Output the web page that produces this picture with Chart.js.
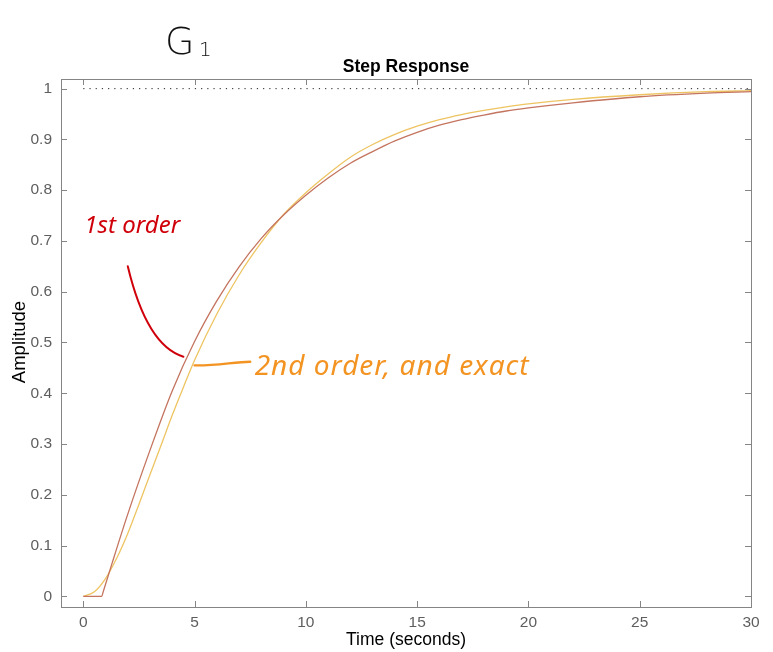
<!DOCTYPE html>
<html><head><meta charset="utf-8">
<script src="https://cdn.jsdelivr.net/npm/chart.js@4"></script>
<style>html,body{margin:0;padding:0;background:#fff}</style>
</head><body>
<canvas id="c" width="773" height="652" style="width:773px;height:652px;display:block"></canvas>
<script>
// ---- data ----
const firstOrderT = [0, 0.83, 0.9, 1.3, 2, 3, 4, 5, 6, 7, 8, 9, 10, 11, 12, 13, 14, 15, 16, 17, 18, 19, 20, 22, 25, 28, 30];
const firstOrderY = [0, 0, 0.0095, 0.066, 0.162, 0.288, 0.405, 0.502, 0.582, 0.649, 0.705, 0.751, 0.79, 0.824, 0.853, 0.876, 0.897, 0.914, 0.928, 0.939, 0.948, 0.956, 0.962, 0.972, 0.984, 0.991, 0.994];
const secondOrderT = [0, 0.5, 1, 1.5, 2, 2.5, 3, 3.5, 4, 4.5, 5, 6, 7, 8, 9, 10, 11, 12, 13, 14, 15, 16, 17, 18, 19, 20, 22, 25, 28, 30];
const secondOrderY = [0, 0.009, 0.035, 0.075, 0.124, 0.181, 0.24, 0.298, 0.357, 0.412, 0.465, 0.556, 0.633, 0.697, 0.752, 0.795, 0.832, 0.865, 0.89, 0.91, 0.926, 0.939, 0.949, 0.957, 0.964, 0.97, 0.979, 0.988, 0.994, 0.996];
const steadyT = [0, 30];
const steadyY = [1, 1];
const xTicks = [0, 5, 10, 15, 20, 25, 30];
const yTicks = [0, 0.1, 0.2, 0.3, 0.4, 0.5, 0.6, 0.7, 0.8, 0.9, 1];
const yTickLabels = ['0', '0.1', '0.2', '0.3', '0.4', '0.5', '0.6', '0.7', '0.8', '0.9', '1'];
const xRange = [-1, 30];
const yRange = [-0.021, 1.019];
// annotation anchors (data coordinates)
const label1st = {text: '1st order', x: 0.05, y: 0.715};
const arrow1st = [[2.0, 0.65], [2.6, 0.54], [3.5, 0.485], [4.5, 0.472]];
const label2nd = {text: '2nd order, and exact', x: 7.7, y: 0.455};
const arrow2nd = [[5.0, 0.455], [6.0, 0.454], [6.8, 0.462], [7.5, 0.462]];

const toXY = (t, y) => t.map((v, i) => ({x: v, y: y[i]}));
const AX = '#858585';
const TXT = '#5e5e5e';

const decor = {
  id: 'decor',
  afterDatasetsDraw(chart) {
    const {ctx, chartArea: a, scales: {x, y}} = chart;
    ctx.save();
    ctx.strokeStyle = AX; ctx.lineWidth = 1;
    ctx.strokeRect(Math.round(a.left) + 0.5, Math.round(a.top) + 0.5, Math.round(a.right - a.left), Math.round(a.bottom - a.top));
    ctx.beginPath();
    xTicks.forEach(v => {
      const px = Math.round(x.getPixelForValue(v)) + 0.5;
      ctx.moveTo(px, a.bottom); ctx.lineTo(px, a.bottom - 6);
      ctx.moveTo(px, a.top); ctx.lineTo(px, a.top + 6);
    });
    yTicks.forEach(v => {
      const py = Math.round(y.getPixelForValue(v)) + 0.5;
      ctx.moveTo(a.left, py); ctx.lineTo(a.left + 6, py);
      ctx.moveTo(a.right, py); ctx.lineTo(a.right - 6, py);
    });
    ctx.stroke();
    ctx.fillStyle = '#000';
    ctx.textAlign = 'center'; ctx.textBaseline = 'middle';
    ctx.font = 'bold 17.5px "Liberation Sans", Arial, sans-serif';
    ctx.fillText('Step Response', (a.left + a.right) / 2, a.top - 12);
    ctx.font = '17.5px "Liberation Sans", Arial, sans-serif';
    ctx.fillText('Time (seconds)', (a.left + a.right) / 2, 640);
    ctx.save();
    ctx.translate(20, (a.top + a.bottom) / 2 - 1);
    ctx.rotate(-Math.PI / 2);
    ctx.font = '18.5px "Liberation Sans", Arial, sans-serif';
    ctx.fillText('Amplitude', 0, 0);
    ctx.restore();
    ctx.textAlign = 'left'; ctx.textBaseline = 'alphabetic';
    ctx.font = '300 38px "DejaVu Sans", sans-serif';
    ctx.fillStyle = '#111';
    ctx.fillText('G', 165, 54);
    ctx.font = '300 20px "DejaVu Sans", sans-serif';
    ctx.fillText('1', 199, 56);
    ctx.fillStyle = '#d0000a';
    ctx.font = 'italic 24px "Noto Sans", sans-serif';
    ctx.fillText(label1st.text, x.getPixelForValue(label1st.x), y.getPixelForValue(label1st.y));
    ctx.strokeStyle = '#d0000a'; ctx.lineWidth = 2; ctx.lineCap = 'round';
    ctx.beginPath();
    const p = arrow1st.map(q => [x.getPixelForValue(q[0]), y.getPixelForValue(q[1])]);
    ctx.moveTo(p[0][0], p[0][1]);
    ctx.bezierCurveTo(p[1][0], p[1][1], p[2][0], p[2][1], p[3][0], p[3][1]);
    ctx.stroke();
    ctx.fillStyle = '#f39422';
    ctx.font = 'italic 28px "Noto Sans", sans-serif';
    ctx.letterSpacing = '1px';
    ctx.fillText(label2nd.text, x.getPixelForValue(label2nd.x), y.getPixelForValue(label2nd.y) + 10);
    ctx.letterSpacing = '0px';
    ctx.strokeStyle = '#f39422'; ctx.lineWidth = 2.4;
    ctx.beginPath();
    const q = arrow2nd.map(r => [x.getPixelForValue(r[0]), y.getPixelForValue(r[1])]);
    ctx.moveTo(q[0][0], q[0][1]);
    ctx.bezierCurveTo(q[1][0], q[1][1], q[2][0], q[2][1], q[3][0], q[3][1]);
    ctx.stroke();
    ctx.restore();
  }
};

new Chart(document.getElementById('c'), {
  type: 'scatter',
  data: {
    datasets: [
      {label: 'steady state', data: toXY(steadyT, steadyY), showLine: true, borderColor: '#222', borderWidth: 1, borderDash: [1.2, 5], pointRadius: 0},
      {label: '1st order', data: toXY(firstOrderT, firstOrderY), showLine: true, borderColor: '#c4745f', borderWidth: 1.3, pointRadius: 0, cubicInterpolationMode: 'monotone'},
      {label: '2nd order', data: toXY(secondOrderT, secondOrderY), showLine: true, borderColor: '#eec462', borderWidth: 1.3, pointRadius: 0, cubicInterpolationMode: 'monotone'}
    ]
  },
  options: {
    responsive: false, animation: false, devicePixelRatio: 1,
    layout: {padding: {top: 79, right: 22, left: 0, bottom: 0}},
    plugins: {legend: {display: false}, title: {display: false}, tooltip: {enabled: false}},
    scales: {
      x: {
        type: 'linear', min: xRange[0], max: xRange[1],
        afterBuildTicks: s => { s.ticks = xTicks.map(v => ({value: v})); },
        afterFit: s => { s.height = 45; },
        grid: {display: false, drawTicks: false}, border: {display: false},
        ticks: {padding: 6, color: TXT, font: {family: '"Liberation Sans", Arial, sans-serif', size: 15.5}, maxRotation: 0, autoSkip: false}
      },
      y: {
        type: 'linear', min: yRange[0], max: yRange[1],
        afterBuildTicks: s => { s.ticks = yTicks.map(v => ({value: v})); },
        afterFit: s => { s.width = 61; },
        grid: {display: false, drawTicks: false}, border: {display: false},
        ticks: {padding: 9, color: TXT, font: {family: '"Liberation Sans", Arial, sans-serif', size: 15.5}, autoSkip: false,
          callback: (v) => { const i = yTicks.findIndex(t => Math.abs(t - v) < 1e-9); return i >= 0 ? yTickLabels[i] : ''; }}
      }
    }
  },
  plugins: [decor]
});
</script>
</body></html>
